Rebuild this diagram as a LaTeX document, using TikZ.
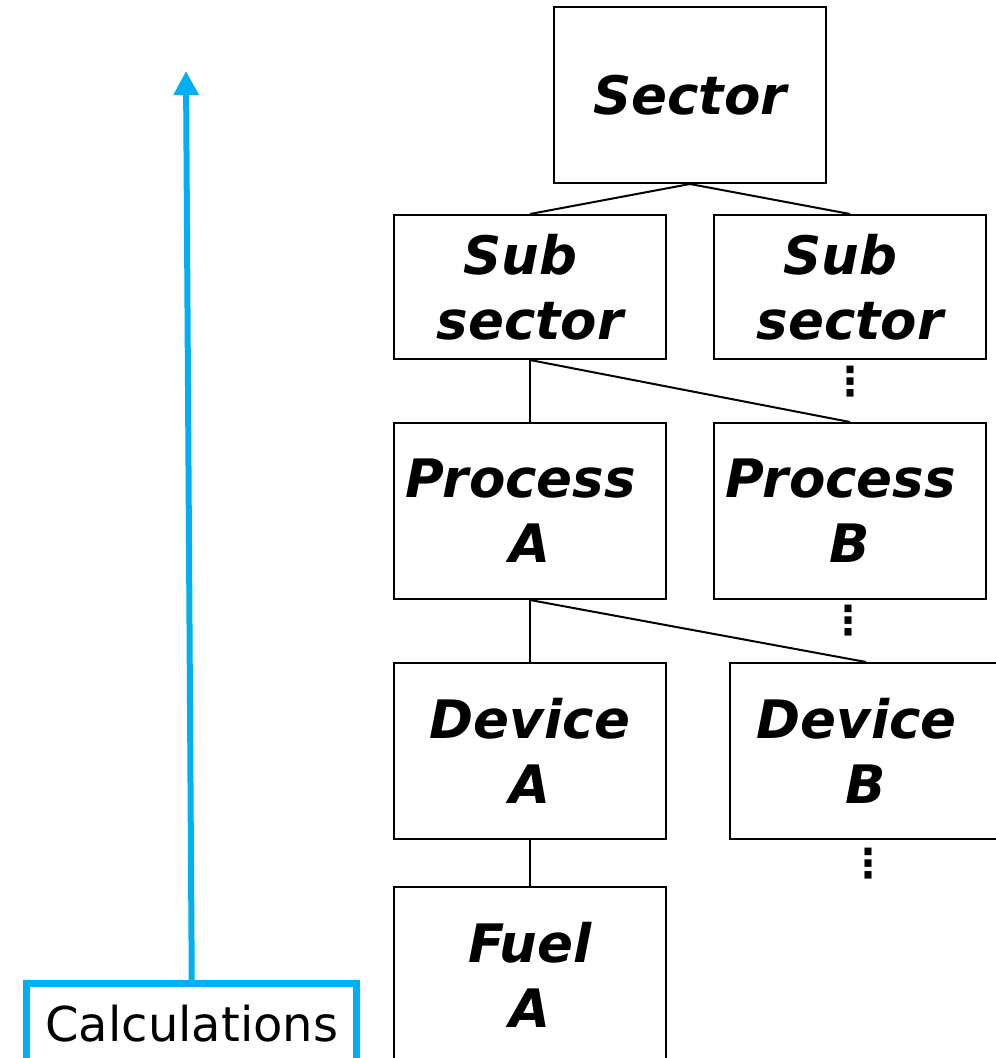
\documentclass[tikz,border=0pt]{standalone}
\usepackage{fontspec}
\setmainfont{DejaVu Sans}
\usetikzlibrary{arrows.meta}
\definecolor{calcblue}{HTML}{00B0F0}
\begin{document}
\begin{tikzpicture}[x=1pt,y=-1pt,
  level/.style={draw=black, line width=2pt, minimum width=272pt, minimum height=176pt,
    inner sep=0pt, align=center, font=\fontsize{53}{65}\selectfont\bfseries\itshape},
  short/.style={level, minimum height=144pt},
  link/.style={line width=2pt},
  more/.style={inner sep=0pt, font=\fontsize{40}{40}\selectfont\bfseries},
  calcbox/.style={draw=calcblue, line width=7pt, minimum width=330pt, minimum height=80pt,
    inner sep=0pt, font=\fontsize{48}{55}\selectfont},
  up/.style={draw=calcblue, line width=6pt, -{Triangle[width=24pt,length=24pt]}}]
\clip (0,0) rectangle (996,1058);
\fill[white] (0,0) rectangle (996,1058);

% hierarchy boxes
\node[level] (sector) at (690,95) {Sector};
\node[short] (subA) at (530,287) {Sub\kern.35em\\sector};
\node[short] (subB) at (850,287) {Sub\kern.35em\\sector};
\node[level] (procA) at (530,511) {Process\kern.35em\\A};
\node[level] (procB) at (850,511) {Process\kern.35em\\B};
\node[level] (devA) at (530,751) {Device\\A};
\node[level] (devB) at (866,751) {Device\kern.35em\\B};
\node[level] (fuelA) at (530,975) {Fuel\\A};

% continuation marks
\node[more] (moreSub) at (850,382) {⋮};
\node[more] (moreProc) at (848,621) {⋮};
\node[more] (moreDev) at (868,864) {⋮};

% tree links
\draw[link] (sector.south) -- (subA.north);
\draw[link] (sector.south) -- (subB.north);
\draw[link] (subA.south) -- (procA.north);
\draw[link] (subA.south) -- (procB.north);
\draw[link] (procA.south) -- (devA.north);
\draw[link] (procA.south) -- (devB.north);
\draw[link] (devA.south) -- (fuelA.north);

% calculation direction
\node[calcbox] (calc) at (191.75,1023.5) {Calculations};
\coordinate (top) at (186,71);
\draw[up] (calc.north) -- (top);
\end{tikzpicture}
\end{document}
